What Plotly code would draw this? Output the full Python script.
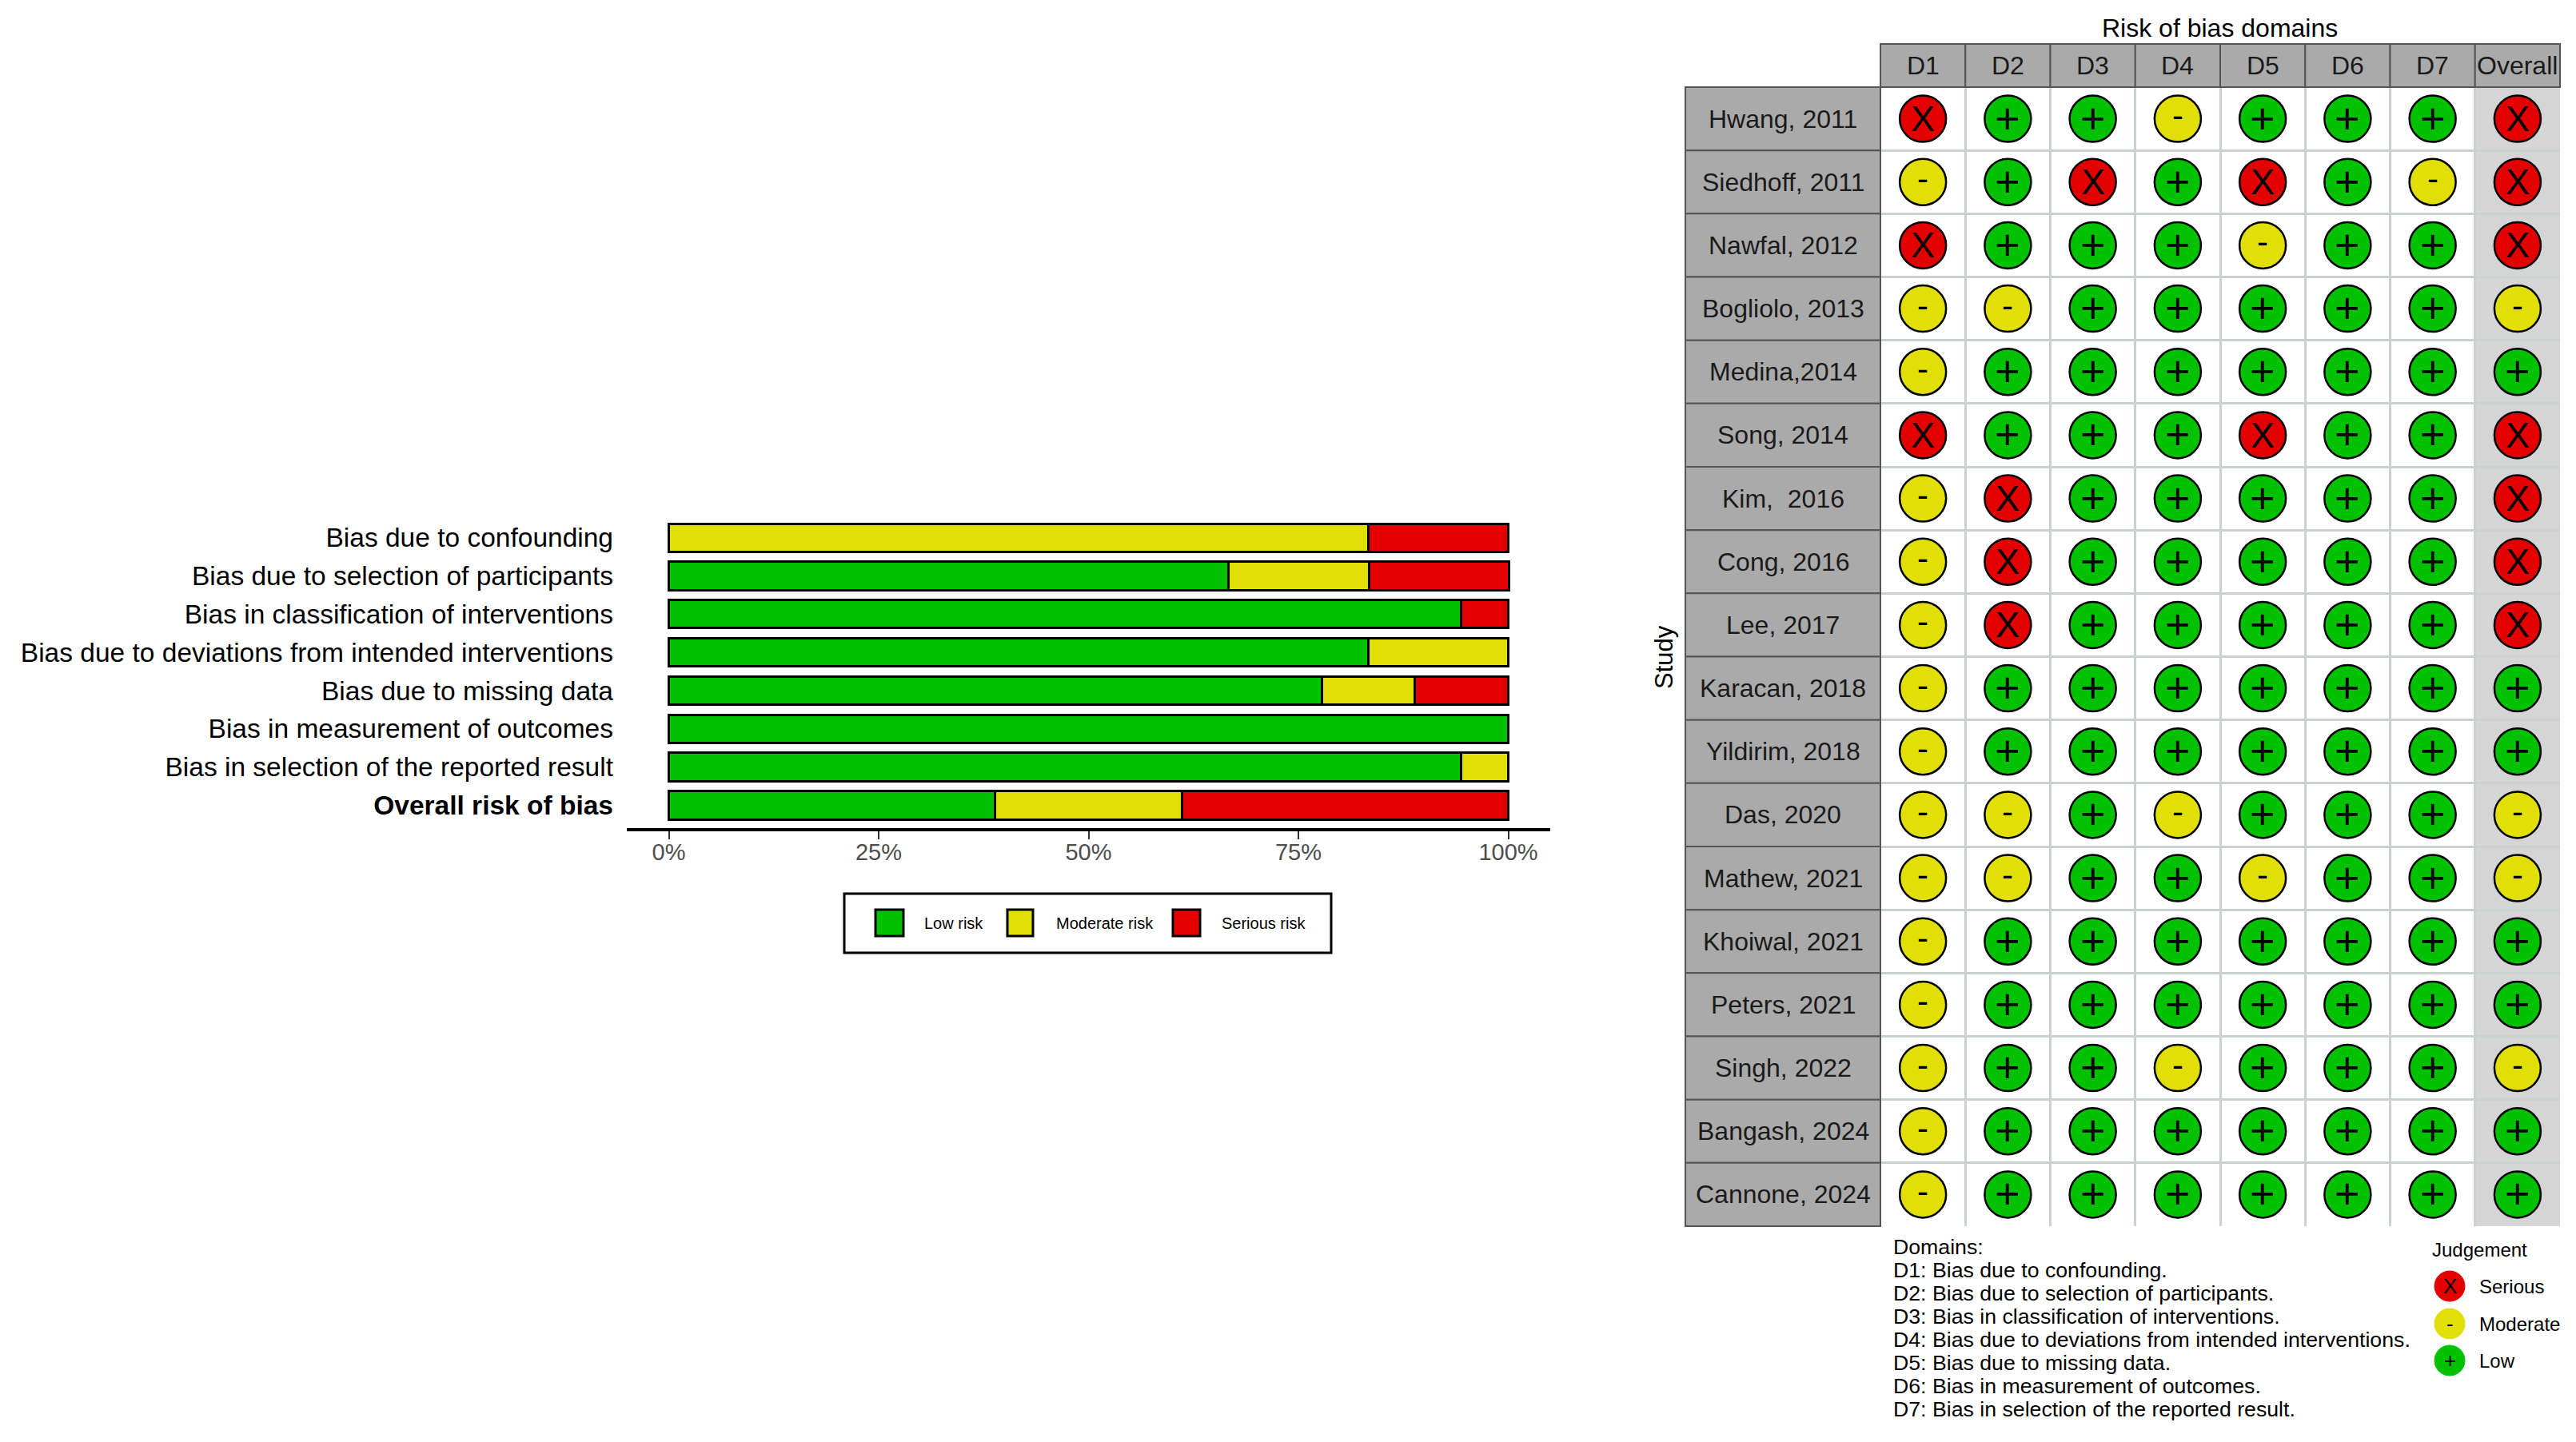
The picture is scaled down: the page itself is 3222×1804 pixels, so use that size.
import plotly.graph_objects as go

W, H = 3222, 1804
FONT = "Liberation Sans"

GREEN = "#02C100"
YELLOW = "#E2DF07"
RED = "#E20000"

# summary bars, percent of studies
domains = [
    "Bias due to confounding",
    "Bias due to selection of participants",
    "Bias in classification of interventions",
    "Bias due to deviations from intended interventions",
    "Bias due to missing data",
    "Bias in measurement of outcomes",
    "Bias in selection of the reported result",
    "<b>Overall risk of bias</b>",
]
low_pct = [0, 66.7, 94.4, 83.3, 77.8, 100, 94.4, 38.9]
moderate_pct = [83.3, 16.7, 0, 16.7, 11.1, 0, 5.6, 22.2]
serious_pct = [16.7, 16.7, 5.6, 0, 11.1, 0, 0, 38.9]
pct_ticks = [0, 25, 50, 75, 100]

# traffic light table
studies = ["Hwang, 2011", "Siedhoff, 2011", "Nawfal, 2012", "Bogliolo, 2013", "Medina,2014",
           "Song, 2014", "Kim,\u00a0 2016", "Cong, 2016", "Lee, 2017", "Karacan, 2018",
           "Yildirim, 2018", "Das, 2020", "Mathew, 2021", "Khoiwal, 2021", "Peters, 2021",
           "Singh, 2022", "Bangash, 2024", "Cannone, 2024"]
columns = ["D1", "D2", "D3", "D4", "D5", "D6", "D7", "Overall"]
judgements = [
    "SLLMLLLS",
    "MLSLSLMS",
    "SLLLMLLS",
    "MMLLLLLM",
    "MLLLLLLL",
    "SLLLSLLS",
    "MSLLLLLS",
    "MSLLLLLS",
    "MSLLLLLS",
    "MLLLLLLL",
    "MLLLLLLL",
    "MMLMLLLM",
    "MMLLMLLM",
    "MLLLLLLL",
    "MLLLLLLL",
    "MLLMLLLM",
    "MLLLLLLL",
    "MLLLLLLL",
]
domain_notes = [
    "Domains:",
    "D1: Bias due to confounding.",
    "D2: Bias due to selection of participants.",
    "D3: Bias in classification of interventions.",
    "D4: Bias due to deviations from intended interventions.",
    "D5: Bias due to missing data.",
    "D6: Bias in measurement of outcomes.",
    "D7: Bias in selection of the reported result.",
]
styles = {"S": (RED, "X", "Serious"), "M": (YELLOW, "-", "Moderate"), "L": (GREEN, "+", "Low")}
# glyph size and vertical nudge inside the circles
glyphs = {"X": (45, 0), "-": (42, 4), "+": (54, 1)}


def px(x):
    return x / W


def py(y):
    return 1 - y / H


annotations = []
shapes = []


def note(text, x, y, size, anchor="center", color="black", angle=0):
    annotations.append(dict(text=text, x=px(x), y=py(y), xref="paper", yref="paper", showarrow=False,
                            xanchor=anchor, yanchor="middle", textangle=angle,
                            font=dict(family=FONT, size=size, color=color)))


def box(x0, y0, x1, y1, fill, line="black", width=3):
    shapes.append(dict(type="rect", xref="paper", yref="paper", x0=px(x0), x1=px(x1), y0=py(y0), y1=py(y1),
                       fillcolor=fill, line=dict(color=line, width=width)))


fig = go.Figure()

# left panel
for name, vals, col in [("Low risk", low_pct, GREEN), ("Moderate risk", moderate_pct, YELLOW),
                        ("Serious risk", serious_pct, RED)]:
    fig.add_trace(go.Bar(y=domains, x=vals, name=name, orientation="h", width=0.74,
                         marker=dict(color=col, line=dict(color="black", width=3)),
                         xaxis="x", yaxis="y", showlegend=False))

# right panel
for code, (col, sym, label) in styles.items():
    xs, ys = [], []
    for r, row in enumerate(judgements):
        for c, val in enumerate(row):
            if val == code:
                xs.append(c)
                ys.append(r)
                size, nudge = glyphs[sym]
                annotations.append(dict(text=sym, x=c, y=r, xref="x2", yref="y2", showarrow=False,
                                        yshift=nudge, font=dict(family=FONT, size=size, color="black")))
    fig.add_trace(go.Scatter(x=xs, y=ys, mode="markers", name=label, cliponaxis=False,
                             marker=dict(size=58, color=col, line=dict(color="black", width=2.5)),
                             xaxis="x2", yaxis="y2", showlegend=False))

# column and row strips
COL_L, COL_R, ROW_T, ROW_B = 2352, 3202, 109, 1534
cell_w = (COL_R - COL_L) / len(columns)
cell_h = (ROW_B - ROW_T) / len(studies)
for i, name in enumerate(columns):
    box(COL_L + i * cell_w, 55, COL_L + (i + 1) * cell_w, ROW_T, "#AAAAAA", "#555555", 2)
    note(name, COL_L + (i + 0.5) * cell_w, 82, 32, color="#1A1A1A")
for i, name in enumerate(studies):
    box(2108, ROW_T + i * cell_h, COL_L, ROW_T + (i + 1) * cell_h, "#AAAAAA", "#555555", 2)
    note(name, 2230, ROW_T + (i + 0.5) * cell_h, 32, color="#1A1A1A")

note("Risk of bias domains", 2776, 35, 32)
note("Study", 2082, 822, 31, angle=-90)

for i, line in enumerate(domain_notes):
    note(line, 2366, 1560 + i * 29, 26.7, anchor="left")

note("Judgement", 3040, 1563, 24, anchor="left")
for (col, sym, label), yy in zip(styles.values(), [1609, 1656, 1702]):
    shapes.append(dict(type="circle", xref="paper", yref="paper", x0=px(3045), x1=px(3083),
                       y0=py(yy + 19), y1=py(yy - 19), fillcolor=col, line=dict(color=col, width=1)))
    note(sym, 3064, yy, 26)
    note(label, 3099, yy, 24, anchor="left")

# summary legend
box(1056, 1118, 1665, 1192, "white")
for x0, x1, col, label, tx in [(1095, 1130, GREEN, "Low risk", 1154),
                               (1260, 1292, YELLOW, "Moderate risk", 1319),
                               (1467, 1501, RED, "Serious risk", 1526)]:
    box(x0, 1138, x1, 1171, col)
    note(label, tx, 1155, 20, anchor="left")

# overall column background in the table
shapes.append(dict(type="rect", xref="x2", yref="y2", x0=6.5, x1=7.5, y0=-0.5, y1=17.5,
                   fillcolor="#D5D5D5", line=dict(width=0), layer="below"))

fig.update_layout(
    width=W, height=H, margin=dict(l=0, r=0, t=0, b=0), barmode="stack",
    paper_bgcolor="white", plot_bgcolor="white", showlegend=False,
    annotations=annotations, shapes=shapes,
    font=dict(family=FONT, color="black"),
    xaxis=dict(domain=[px(784), px(1939)], range=[-5, 105], tickvals=pct_ticks,
               ticktext=[f"{v}%" for v in pct_ticks], showgrid=False, zeroline=False,
               ticks="outside", ticklen=10, tickwidth=2, tickcolor="#333333", ticklabelstandoff=-9,
               tickfont=dict(family=FONT, size=29, color="#4D4D4D"),
               showline=True, linecolor="black", linewidth=4, anchor="y"),
    yaxis=dict(domain=[py(1036), py(644)], categoryorder="array", categoryarray=domains[::-1],
               range=[-0.6, 7.6], tickfont=dict(family=FONT, size=33.5, color="black"),
               showgrid=False, zeroline=False, ticks="", ticklabelstandoff=16, anchor="x"),
    xaxis2=dict(domain=[px(COL_L), px(COL_R)], range=[-0.5, 7.5], anchor="y2", showticklabels=False,
                tickvals=[i + 0.5 for i in range(-1, 8)], ticks="", zeroline=False,
                showgrid=True, gridcolor="#C9D2CC", gridwidth=3),
    yaxis2=dict(domain=[py(ROW_B), py(ROW_T)], range=[17.5, -0.5], anchor="x2", showticklabels=False,
                tickvals=[i + 0.5 for i in range(-1, 18)], ticks="", zeroline=False,
                showgrid=True, gridcolor="#C9D2CC", gridwidth=3),
)

fig.write_html("out.html", config={"displayModeBar": False}, post_script="document.body.style.margin='0';")
